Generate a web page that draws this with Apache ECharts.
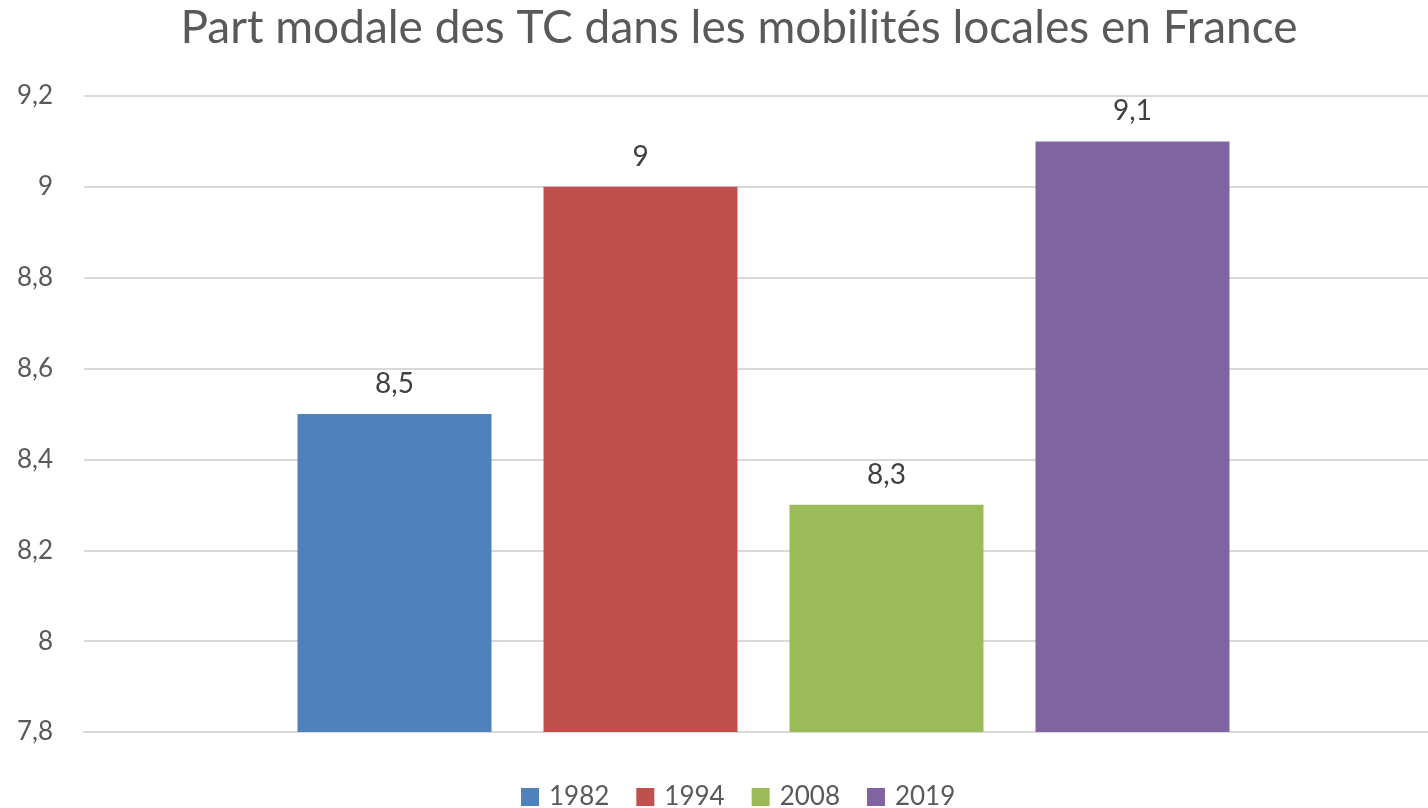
<!DOCTYPE html>
<html>
<head>
<meta charset="utf-8">
<script src="https://cdn.jsdelivr.net/npm/echarts@6/dist/echarts.min.js"></script>
<style>html,body{margin:0;padding:0;background:#fff}#c{width:1428px;height:808px}</style>
</head>
<body>
<div id="c"></div>
<script>
const titleText = 'Part modale des TC dans les mobilités locales en France';
const categories = [''];
const years = ['1982', '1994', '2008', '2019'];
const values = [8.5, 9, 8.3, 9.1];
const colors = ['#4F81BD', '#C0504D', '#9BBB59', '#8064A2'];
const yMin = 7.8, yMax = 9.2, yStep = 0.2;

const FONT = 'Lato';
function fmt(v) { return String(Number(v.toFixed(1))).replace('.', ','); }

const chart = echarts.init(document.getElementById('c'));
chart.setOption({
  animation: false,
  backgroundColor: '#ffffff',
  title: {
    text: titleText,
    left: 734, top: 0, textAlign: 'center',
    textStyle: { fontFamily: FONT, fontSize: 46, fontWeight: 'normal', color: '#595959' }
  },
  legend: {
    left: 516, top: 779,
    itemWidth: 18, itemHeight: 18, itemGap: 27,
    icon: 'rect',
    textStyle: { fontFamily: FONT, fontSize: 26, color: '#595959', padding: [0, 0, 0, 5] },
    data: years
  },
  grid: { left: 84, right: -15, top: 96, bottom: 76, outerBoundsMode: 'none', containLabel: false },
  xAxis: {
    type: 'category', data: categories,
    axisLine: { show: true, lineStyle: { color: '#d9d9d9', width: 2 } },
    axisTick: { show: false }, axisLabel: { show: false }
  },
  yAxis: {
    type: 'value', min: yMin, max: yMax, interval: yStep,
    axisLine: { show: false }, axisTick: { show: false },
    axisLabel: { fontFamily: FONT, fontSize: 26, color: '#595959', margin: 31, formatter: fmt },
    splitLine: { lineStyle: { color: '#d9d9d9', width: 2 } }
  },
  series: years.map((y, i) => ({
    name: y, type: 'bar',
    data: [values[i]],
    itemStyle: { color: colors[i] },
    barWidth: 194, barGap: '26.8%',
    label: {
      show: true, position: 'top', distance: 16,
      fontFamily: FONT, fontSize: 28, color: '#404040',
      formatter: p => fmt(p.value)
    }
  }))
});
</script>
</body>
</html>
